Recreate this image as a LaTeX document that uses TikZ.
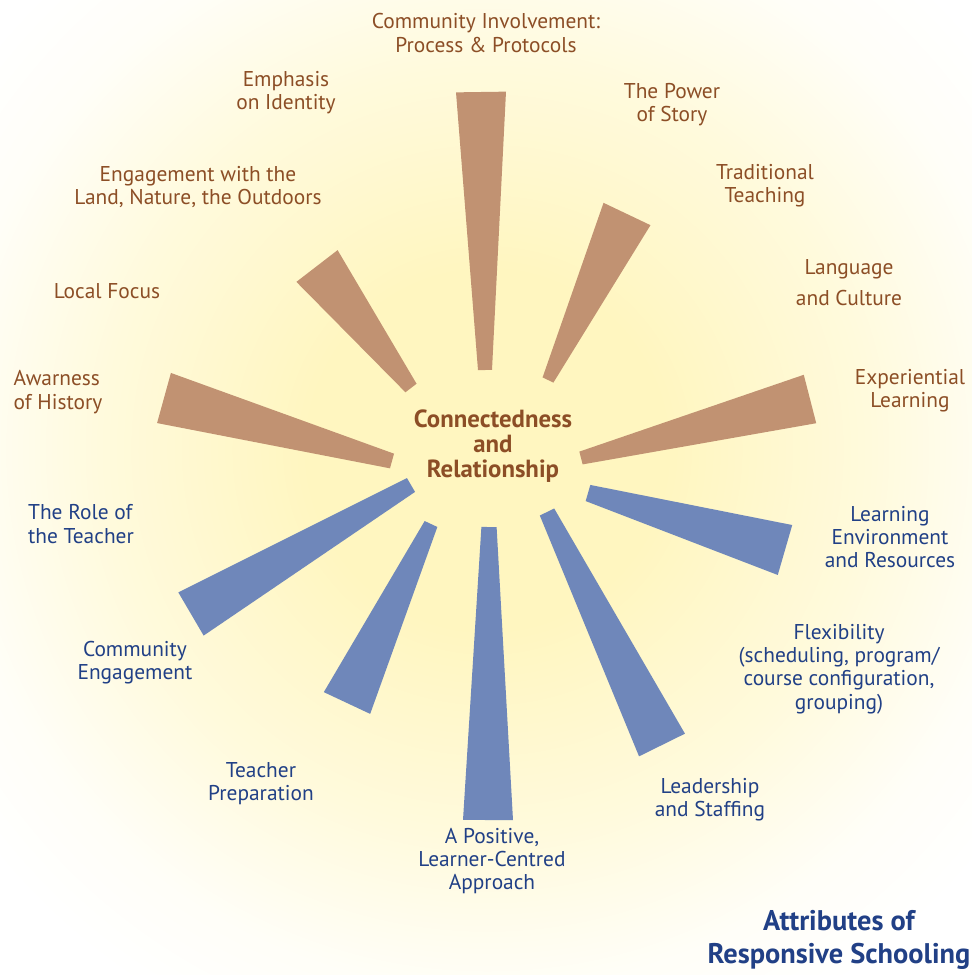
\documentclass[tikz,border=0pt]{standalone}
\usepackage{fontspec}
\setmainfont{PT Sans}
\usetikzlibrary{calc}

\definecolor{wedgebrown}{RGB}{193,146,114}
\definecolor{wedgeblue}{RGB}{111,135,186}
\definecolor{textbrown}{RGB}{140,78,38}
\definecolor{textblue}{RGB}{33,64,134}
\definecolor{glowyellow}{RGB}{255,246,192}

\pgfdeclareradialshading{glow}{\pgfpoint{0bp}{0bp}}{%
  color(0bp)=(glowyellow);color(7bp)=(glowyellow);
  color(15bp)=(glowyellow!55!white);color(21bp)=(glowyellow!12!white);
  color(25bp)=(white);color(50bp)=(white)}

% tapered ray: colour, inner point, outer point, inner half width, outer half width
\newcommand{\ray}[5]{%
  \fill[#1] ($(#2)!#4!90:(#3)$) -- ($(#2)!#4!-90:(#3)$)
    -- ($(#3)!#5!90:(#2)$) -- ($(#3)!#5!-90:(#2)$) -- cycle;}

\tikzset{
  attr/.style={align=center, font=\fontsize{10.7}{11.6}\selectfont, inner sep=1pt},
  brownlbl/.style={attr, text=textbrown},
  bluelbl/.style={attr, text=textblue}
}

\begin{document}
\begin{tikzpicture}[x=0.5pt, y=-0.5pt]
    \useasboundingbox (0,0) rectangle (971,975);
    \fill[white] (0,0) rectangle (971,975);
    % --- glow in the background ---
    \shade[shading=glow] (487,450) circle (640);

    % --- brown rays (upper half) ---
    \ray{wedgebrown}{485,370}{481,92}{3.5pt}{12.5pt}
    \ray{wedgebrown}{548,380}{627,214}{3pt}{13pt}
    \ray{wedgebrown}{581,458}{810,399}{3.3pt}{12.5pt}
    \ray{wedgebrown}{411,388}{317,266}{3.5pt}{13pt}
    \ray{wedgebrown}{392,461}{164,398}{3.8pt}{13pt}

    % --- blue rays (lower half) ---
    \ray{wedgeblue}{588,493}{785,550}{4.2pt}{13pt}
    \ray{wedgeblue}{547,512}{662,745}{4pt}{12.8pt}
    \ray{wedgeblue}{489,527}{488,820}{3.8pt}{12.5pt}
    \ray{wedgeblue}{431,524}{347,703}{3.5pt}{12.8pt}
    \ray{wedgeblue}{411,485}{191,614}{4pt}{12.5pt}

    % --- centre ---
    \node[attr, text=textbrown, font=\bfseries\fontsize{12.4}{12.4}\selectfont] (core) at (493,446)
        {Connectedness\\and\\Relationship};

    % --- brown labels ---
    \node[brownlbl] (community) at (486,33) {Community Involvement:\\Process \& Protocols};
    \node[brownlbl] (identity) at (286,93) {Emphasis\\on Identity};
    \node[brownlbl] (story) at (672,105) {The Power\\of Story};
    \node[brownlbl] (traditional) at (765,186) {Traditional\\Teaching};
    \node[brownlbl] (land) at (198,187) {Engagement with the\\Land, Nature, the Outdoors};
    \node[brownlbl, font=\fontsize{10.7}{15.5}\selectfont] (language) at (849,283) {Language\\and Culture};
    \node[brownlbl] (local) at (107,291) {Local Focus};
    \node[brownlbl, align=left] (history) at (58,392) {Awarness\\of History};
    \node[brownlbl] (experiential) at (910,391) {Experiential\\Learning};

    % --- blue labels ---
    \node[bluelbl, align=left] (role) at (81,524) {The Role of\\the Teacher};
    \node[bluelbl] (environment) at (890,537) {Learning\\Environment\\and Resources};
    \node[bluelbl] (engagement) at (135,663) {Community\\Engagement};
    \node[bluelbl] (flexibility) at (839,669) {Flexibility\\(scheduling, program/\\course configuration,\\grouping)};
    \node[bluelbl] (preparation) at (261,784) {Teacher\\Preparation};
    \node[bluelbl] (leadership) at (710,800) {Leadership\\and Staffing};
    \node[bluelbl] (positive) at (492,861) {A Positive,\\Learner-Centred\\Approach};

    % --- title ---
    \node[attr, text=textblue, font=\bfseries\fontsize{14.2}{16.5}\selectfont] (title) at (839,940)
        {Attributes of\\Responsive Schooling};
\end{tikzpicture}
\end{document}
